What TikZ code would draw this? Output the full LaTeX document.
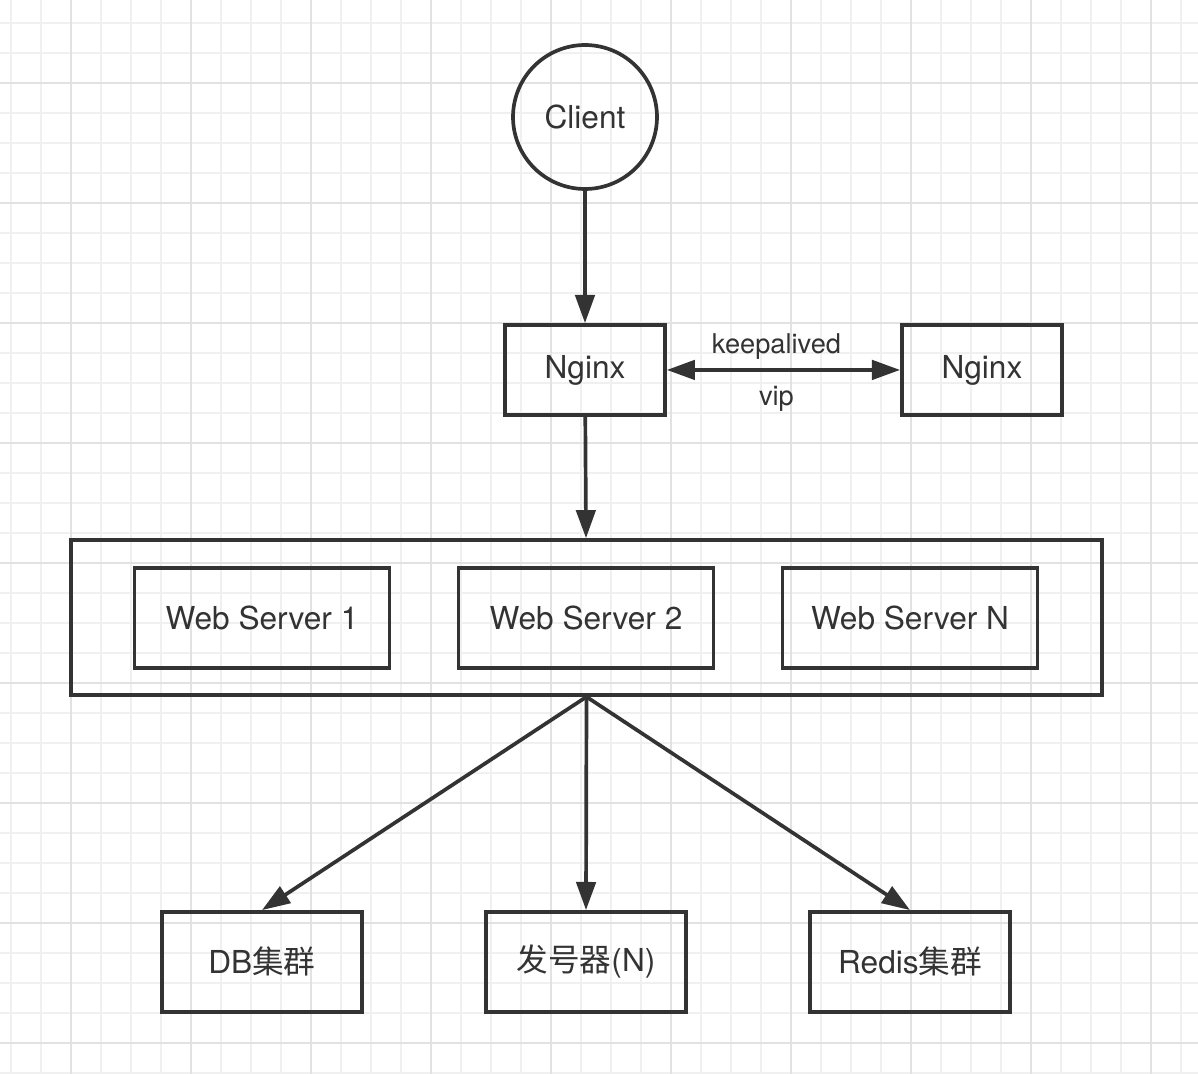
\documentclass[tikz,border=0pt]{standalone}
\usepackage{fontspec}
\setmainfont{TeX Gyre Heros}
\newfontfamily\cjk{Noto Sans CJK SC}
\usetikzlibrary{positioning,arrows.meta}
\definecolor{ink}{HTML}{333333}
\definecolor{grid minor}{HTML}{F0F0F0}
\definecolor{grid major}{HTML}{E2E2E2}

\begin{document}
\begin{tikzpicture}[x=0.02cm, y=-0.02cm, ->, >={Triangle[length=16pt,width=11pt]}, line width=2.1pt, color=ink, main box/.style={rectangle, draw, line width=2.1pt, minimum width=3.2cm, minimum height=1.8cm, font=\fontsize{18}{20}\selectfont}, server box/.style={main box, minimum width=5.1cm, minimum height=2cm}, store box/.style={main box, minimum width=4cm, minimum height=2cm}, client node/.style={circle, draw, line width=2.1pt, minimum size=2.88cm, font=\fontsize{18}{20}\selectfont}, link label/.style={font=\fontsize{15.5}{17}\selectfont}, grid line/.style={-, line width=0.6pt, grid minor}, grid bold/.style={-, line width=0.8pt, grid major}]

  % Background grid
  \useasboundingbox (0,0) rectangle (1198,1074);
  \fill[white] (0,0) rectangle (1198,1074);
  \foreach \gx in {11,41,...,1198} \draw[grid line] (\gx,0) -- (\gx,1074);
  \foreach \gy in {23,53,...,1074} \draw[grid line] (0,\gy) -- (1198,\gy);
  \foreach \gx in {71,191,...,1198} \draw[grid bold] (\gx,0) -- (\gx,1074);
  \foreach \gy in {83,203,...,1074} \draw[grid bold] (0,\gy) -- (1198,\gy);

  % Define nodes
  \node[client node] (client) at (585,117) {Client};
  \node[main box] (nginx1) [below of=client, node distance=5.06cm] {Nginx};
  \node[main box] (nginx2) [right of=nginx1, node distance=7.94cm] {Nginx};
  \node[main box, minimum width=20.62cm, minimum height=3.1cm] (web) at (586.5,617.5) {};
  \node[server box] (ws1) at (262,618) {Web Server 1};
  \node[server box] (ws2) at (586,618) {Web Server 2};
  \node[server box] (wsn) at (910,618) {Web Server N};
  \node[store box] (db) [below of=ws1, node distance=6.88cm] {DB{\cjk 集群}};
  \node[store box] (idgen) [below of=ws2, node distance=6.88cm] {{\cjk 发号器}(N)};
  \node[store box] (redis) [below of=wsn, node distance=6.88cm] {Redis{\cjk 集群}};

  % Define edges
  \path[->]
    (client) edge (nginx1)
    (nginx1) edge[<->] node[above, link label, inner sep=5pt, pos=0.47] {keepalived} node[below, link label, inner sep=8pt, pos=0.47] {vip} (nginx2)
    (nginx1) edge (web)
    (web.south) edge (db.north)
    (web.south) edge (idgen.north)
    (web.south) edge (redis.north);
\end{tikzpicture}
\end{document}
